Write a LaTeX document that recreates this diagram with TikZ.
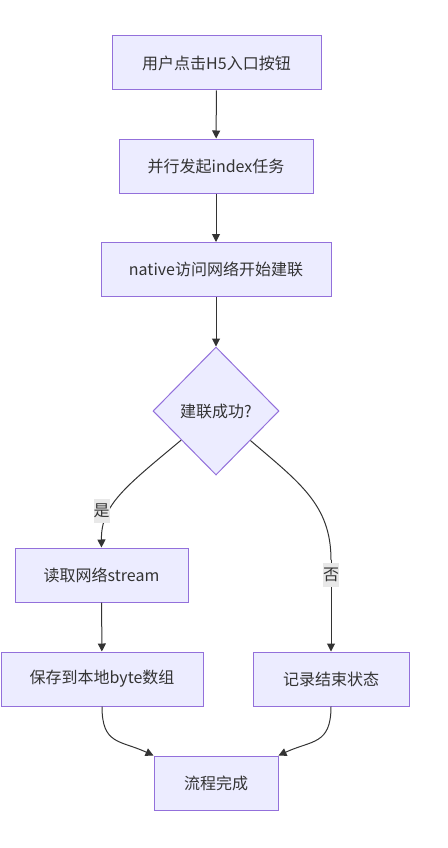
\documentclass[tikz,border=0pt]{standalone}
\usepackage{fontspec}
\setmainfont{Noto Sans CJK SC}
\usetikzlibrary{shapes.geometric,arrows.meta}
\definecolor{nfill}{HTML}{ECECFF}
\definecolor{nline}{HTML}{9370DB}
\definecolor{ntext}{HTML}{333333}
\definecolor{elab}{HTML}{E8E8E8}
\tikzset{
  box/.style={draw=nline, fill=nfill, line width=1pt, text=ntext, minimum height=54pt, inner sep=0pt, font=\fontsize{16}{19}\selectfont},
  dia/.style={diamond, draw=nline, fill=nfill, line width=1pt, text=ntext, minimum width=126pt, minimum height=128pt, inner sep=0pt, font=\fontsize{16}{19}\selectfont},
  arr/.style={draw=ntext, line width=1pt, -{Triangle[length=8pt,width=8pt]}},
  elabel/.style={fill=elab, text=ntext, inner sep=0pt, minimum width=16pt, minimum height=24pt, font=\fontsize{16}{19}\selectfont}
}
\begin{document}
\begin{tikzpicture}[x=1pt,y=-1pt]
\useasboundingbox (0,0) rectangle (447,848);
\node[box, minimum width=209pt] (n1) at (216.5,63) {用户点击H5入口按钮};
\node[box, minimum width=194pt] (n2) at (216,166) {并行发起index任务};
\node[box, minimum width=230pt] (n3) at (216,269.5) {native访问网络开始建联};
\node[dia] (d) at (216,411) {建联成功?};
\node[box, minimum width=173pt] (r) at (101.5,575) {读取网络stream};
\node[box, minimum width=202pt] (s) at (102,679) {保存到本地byte数组};
\node[box, minimum width=156pt] (f) at (331,679) {记录结束状态};
\node[box, minimum width=124pt] (e) at (216,783) {流程完成};
\coordinate (rbend) at (331,560);
\draw[arr] (n1) -- (n2);
\draw[arr] (n2) -- (n3);
\draw[arr] (n3) -- (d);
\draw[arr] (d) .. controls (125,487) and (101,505) .. (r.north);
\draw[draw=ntext, line width=1pt] (d) .. controls (300,483) and (331,505) .. (rbend);
\draw[arr] (rbend) -- (f.north);
\node[elabel] (lyes) at (101.5,511) {是};
\node[elabel] (lno) at (331,575) {否};
\draw[arr] (r) -- (s);
\draw[arr] (s.south) .. controls (102,745) and (120,740) .. (e.north west);
\draw[arr] (f.south) .. controls (331,745) and (312,740) .. (e.north east);
\end{tikzpicture}
\end{document}
